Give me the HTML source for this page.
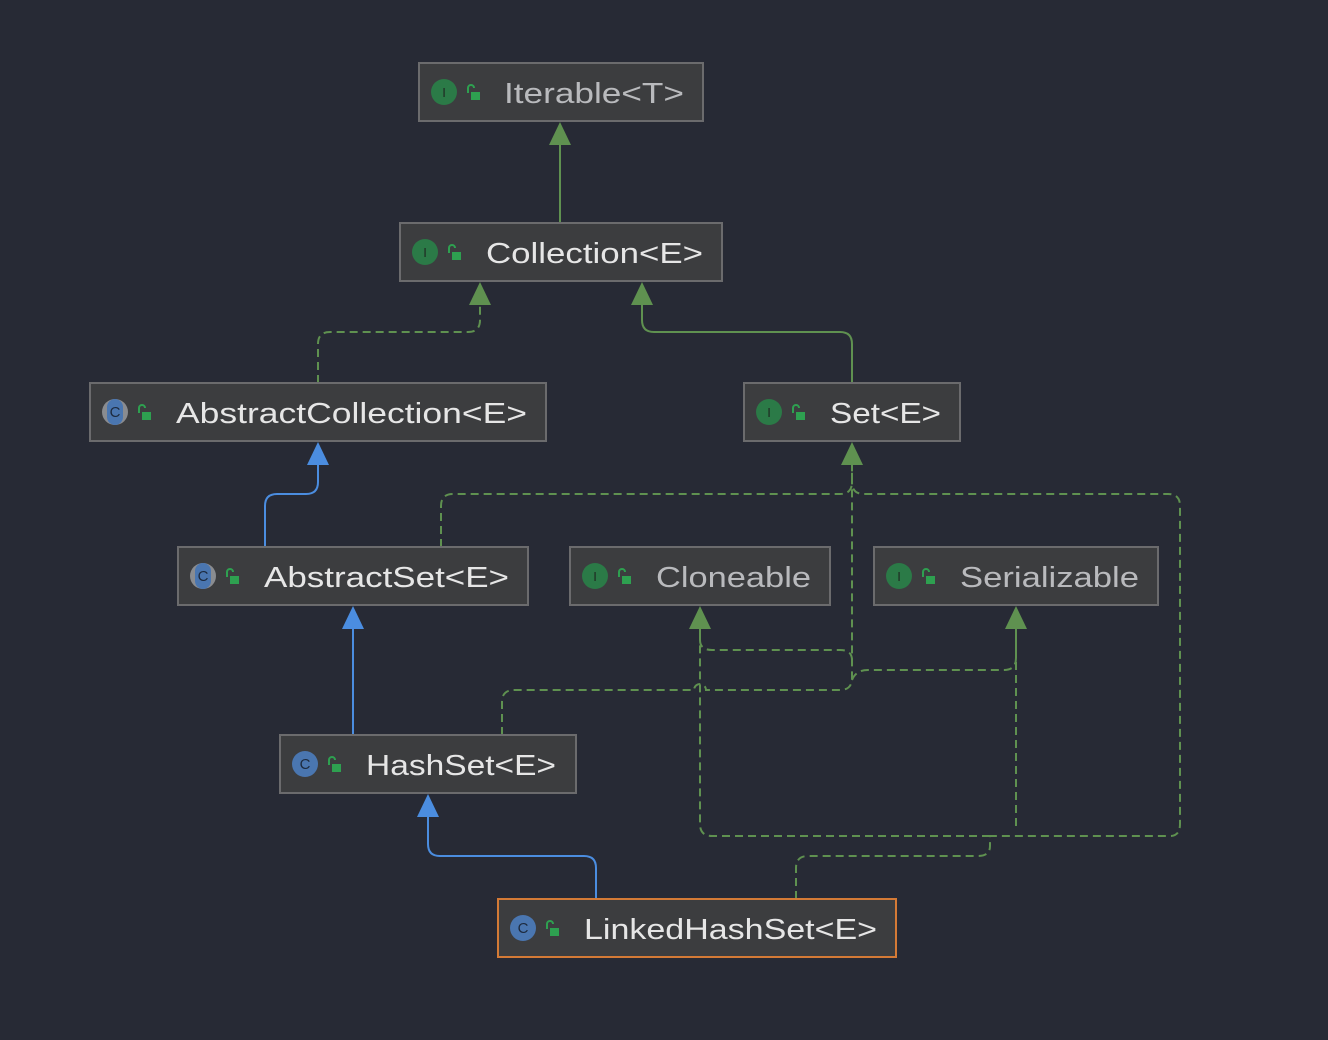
<!DOCTYPE html>
<html><head><meta charset="utf-8"><style>
html,body{margin:0;padding:0;background:#272a35;}
svg{display:block}
text{font-family:"Liberation Sans","DejaVu Sans",sans-serif;}
</style></head><body>
<svg width="1328" height="1040" xmlns="http://www.w3.org/2000/svg">
<rect width="1328" height="1040" fill="#272a35"/>
<defs>
<g id="lock"><path d="M-5,-1 v-5 a3,3 0 0 1 6,0" fill="none" stroke="#2ea050" stroke-width="2"/><rect x="-2" y="-2" width="9" height="8" fill="#2ea050"/></g>
</defs>
<g fill="none" stroke-width="2">
<!-- green solid -->
<path d="M560,223 V140" stroke="#5f9150"/>
<path d="M852,383 V344 Q852,332 840,332 H654 Q642,332 642,320 V300" stroke="#5f9150"/>
<!-- blue solid -->
<path d="M265,547 V506 Q265,494 277,494 H306 Q318,494 318,482 V460" stroke="#4b8de0"/>
<path d="M353,735 V624" stroke="#4b8de0"/>
<path d="M596,899 V868 Q596,856 584,856 H440 Q428,856 428,844 V812" stroke="#4b8de0"/>
<!-- green dashed -->
<g stroke="#5f9150" stroke-dasharray="8,5">
<path d="M318,383 V344 Q318,332 330,332 H468 Q480,332 480,320 V300"/>
<path d="M441,547 V506 Q441,494 453,494 H840 Q852,494 852,482 V460"/>
<path d="M502,735 V702 Q502,690 514,690 H694 A6,6 0 0 1 706,690 H840 Q852,690 852,678 V460"/>
<path d="M852,660 Q852,650 840,650 H712 Q700,650 700,640 V624"/>
<path d="M852,680 Q856,670 868,670 H1004 Q1016,670 1016,658 V624"/>
<path d="M796,899 V868 Q796,856 808,856 H978 Q990,856 990,846 V836 H1170 Q1180,836 1180,824 V506 Q1180,494 1168,494 H864 Q852,494 852,482"/>
<path d="M990,836 H712 Q700,836 700,824 V624"/>
<path d="M1016,826 V624"/>
</g>
</g>
<!-- arrowheads -->
<g fill="#5f9150">
<polygon points="560,122 549,145 571,145"/>
<polygon points="480,282 469,305 491,305"/>
<polygon points="642,282 631,305 653,305"/>
<polygon points="852,442 841,465 863,465"/>
<polygon points="700,606 689,629 711,629"/>
<polygon points="1016,606 1005,629 1027,629"/>
</g>
<g fill="#4b8de0">
<polygon points="318,442 307,465 329,465"/>
<polygon points="353,606 342,629 364,629"/>
<polygon points="428,794 417,817 439,817"/>
</g>
<!-- boxes -->
<g stroke="#6b6b6d" stroke-width="2" fill="#3c3d3f">
<rect x="419" y="63" width="284" height="58"/>
<rect x="400" y="223" width="322" height="58"/>
<rect x="90" y="383" width="456" height="58"/>
<rect x="744" y="383" width="216" height="58"/>
<rect x="178" y="547" width="350" height="58"/>
<rect x="570" y="547" width="260" height="58"/>
<rect x="874" y="547" width="284" height="58"/>
<rect x="280" y="735" width="296" height="58"/>
<rect x="498" y="899" width="398" height="58" stroke="#d47a36"/>
</g>
<!-- icons -->
<g font-size="13" text-anchor="middle" font-family="Liberation Serif,serif">
<g fill="#2b7a47"><circle cx="444" cy="92" r="13"/><circle cx="425" cy="252" r="13"/><circle cx="769" cy="412" r="13"/><circle cx="595" cy="576" r="13"/><circle cx="899" cy="576" r="13"/></g>
<g fill="#1e2a22"><text x="444" y="97">I</text><text x="425" y="257">I</text><text x="769" y="417">I</text><text x="595" y="581">I</text><text x="899" y="581">I</text></g>
<g fill="#8a8c90"><circle cx="115" cy="412" r="13"/><circle cx="203" cy="576" r="13"/></g>
<g fill="#4a76b0"><rect x="107" y="399" width="16" height="26" rx="8"/><rect x="195" y="563" width="16" height="26" rx="8"/><circle cx="305" cy="764" r="13"/><circle cx="523" cy="928" r="13"/></g>
<g fill="#1d2a3e" font-family="Liberation Sans,sans-serif" font-size="15"><text x="115" y="417">C</text><text x="203" y="581">C</text><text x="305" y="769">C</text><text x="523" y="933">C</text></g>
</g>
<use href="#lock" x="473" y="94"/><use href="#lock" x="454" y="254"/><use href="#lock" x="144" y="414"/>
<use href="#lock" x="798" y="414"/><use href="#lock" x="232" y="578"/><use href="#lock" x="624" y="578"/>
<use href="#lock" x="928" y="578"/><use href="#lock" x="334" y="766"/><use href="#lock" x="552" y="930"/>
<!-- labels -->
<g font-size="29">
<text x="504" y="103" fill="#b9babd" textLength="180" lengthAdjust="spacingAndGlyphs">Iterable&lt;T&gt;</text>
<text x="486" y="263" fill="#e6e6e6" textLength="217" lengthAdjust="spacingAndGlyphs">Collection&lt;E&gt;</text>
<text x="176" y="423" fill="#e6e6e6" textLength="351" lengthAdjust="spacingAndGlyphs">AbstractCollection&lt;E&gt;</text>
<text x="830" y="423" fill="#e6e6e6" textLength="111" lengthAdjust="spacingAndGlyphs">Set&lt;E&gt;</text>
<text x="264" y="587" fill="#e6e6e6" textLength="245" lengthAdjust="spacingAndGlyphs">AbstractSet&lt;E&gt;</text>
<text x="656" y="587" fill="#b9babd" textLength="155" lengthAdjust="spacingAndGlyphs">Cloneable</text>
<text x="960" y="587" fill="#b9babd" textLength="179" lengthAdjust="spacingAndGlyphs">Serializable</text>
<text x="366" y="775" fill="#e6e6e6" textLength="190" lengthAdjust="spacingAndGlyphs">HashSet&lt;E&gt;</text>
<text x="584" y="939" fill="#e6e6e6" textLength="293" lengthAdjust="spacingAndGlyphs">LinkedHashSet&lt;E&gt;</text>
</g>
</svg>
</body></html>
